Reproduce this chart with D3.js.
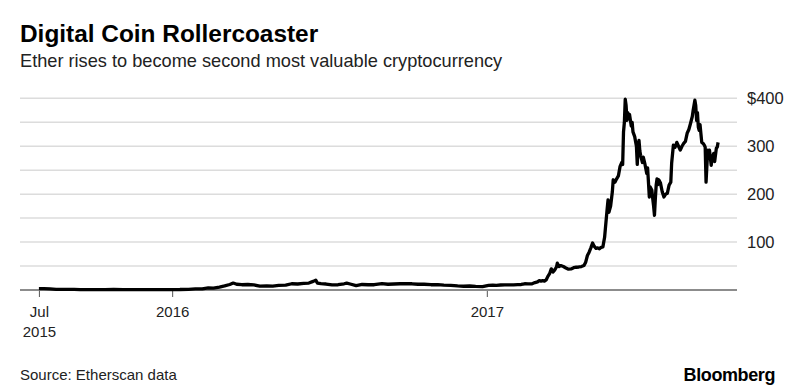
<!DOCTYPE html>
<html>
<head>
<meta charset="utf-8">
<script src="https://cdn.jsdelivr.net/npm/d3@7"></script>
<style>
  body { margin: 0; background: #fff; }
  svg { display: block; font-family: "Liberation Sans", Arial, Helvetica, sans-serif; }
</style>
</head>
<body>
<svg id="chart" width="800" height="391"></svg>
<script>
// Ether price (USD)
const dates = [
  "2015-07-30","2015-08-05","2015-08-12","2015-08-19","2015-08-26","2015-09-02","2015-09-09","2015-09-16",
  "2015-09-23","2015-10-01","2015-10-15","2015-10-25","2015-11-05","2015-11-20","2015-12-05","2015-12-20",
  "2016-01-01","2016-01-10","2016-01-20","2016-01-28","2016-02-05","2016-02-12","2016-02-18","2016-02-25",
  "2016-03-02","2016-03-08","2016-03-12","2016-03-16","2016-03-22","2016-03-29","2016-04-05","2016-04-12",
  "2016-04-20","2016-04-27","2016-05-04","2016-05-12","2016-05-19","2016-05-26","2016-06-02","2016-06-08",
  "2016-06-13","2016-06-16","2016-06-18","2016-06-22","2016-06-28","2016-07-05","2016-07-12","2016-07-19",
  "2016-07-22","2016-07-26","2016-08-02","2016-08-09","2016-08-16","2016-08-23","2016-09-01","2016-09-08",
  "2016-09-15","2016-09-22","2016-09-29","2016-10-06","2016-10-13","2016-10-20","2016-10-28","2016-11-05",
  "2016-11-12","2016-11-20","2016-11-28","2016-12-05","2016-12-12","2016-12-19","2016-12-27",
  "2017-01-03","2017-01-08","2017-01-12","2017-01-17","2017-01-22","2017-01-27","2017-02-01","2017-02-06",
  "2017-02-10","2017-02-14","2017-02-18","2017-02-22","2017-02-26","2017-03-01","2017-03-03","2017-03-05",
  "2017-03-07","2017-03-09","2017-03-11","2017-03-13","2017-03-15","2017-03-17","2017-03-19","2017-03-21",
  "2017-03-23","2017-03-24","2017-03-26","2017-03-28","2017-03-31","2017-04-03","2017-04-06","2017-04-09",
  "2017-04-12","2017-04-15","2017-04-18","2017-04-21","2017-04-24","2017-04-26","2017-04-28","2017-04-30",
  "2017-05-02","2017-05-04","2017-05-06","2017-05-08","2017-05-10","2017-05-12","2017-05-14","2017-05-16",
  "2017-05-18","2017-05-19","2017-05-21","2017-05-22","2017-05-23","2017-05-25","2017-05-27","2017-05-28",
  "2017-05-30","2017-06-01","2017-06-03","2017-06-05","2017-06-07","2017-06-08","2017-06-09","2017-06-10",
  "2017-06-11","2017-06-12","2017-06-13","2017-06-14","2017-06-15","2017-06-16","2017-06-18","2017-06-19",
  "2017-06-20","2017-06-22","2017-06-24","2017-06-25","2017-06-26","2017-06-27","2017-06-28","2017-06-29",
  "2017-07-01","2017-07-02","2017-07-04","2017-07-06","2017-07-07","2017-07-08","2017-07-09","2017-07-10",
  "2017-07-12","2017-07-13","2017-07-14","2017-07-15","2017-07-16","2017-07-17","2017-07-18","2017-07-19",
  "2017-07-20","2017-07-22","2017-07-24","2017-07-26","2017-07-28","2017-07-30","2017-08-01","2017-08-03",
  "2017-08-04","2017-08-06","2017-08-08","2017-08-10","2017-08-12","2017-08-14","2017-08-16","2017-08-18",
  "2017-08-20","2017-08-22","2017-08-24","2017-08-26","2017-08-28","2017-08-29","2017-08-31","2017-09-01",
  "2017-09-02","2017-09-03","2017-09-04","2017-09-05","2017-09-06","2017-09-08","2017-09-10","2017-09-11",
  "2017-09-12","2017-09-13","2017-09-14","2017-09-15","2017-09-16","2017-09-17","2017-09-19","2017-09-20",
  "2017-09-22","2017-09-23","2017-09-25","2017-09-26","2017-09-27"
];
const prices = [
  2.8, 3.0, 2.2, 1.4, 1.2, 1.3, 1.2, 0.9,
  0.8, 0.7, 0.6, 1.0, 0.9, 0.9, 0.85, 0.8,
  0.95, 1.0, 1.5, 2.3, 2.5, 4.5, 4.0, 6.0,
  8.5, 11.5, 14.5, 12.0, 11.0, 11.5, 10.5, 8.0,
  8.5, 8.0, 9.5, 10.0, 13.0, 12.5, 14.0, 14.5,
  18.0, 20.5, 14.5, 13.2, 12.5, 10.5, 11.0, 13.0,
  14.5, 12.5, 9.0, 11.5, 11.0, 11.0, 13.5, 12.0,
  12.5, 13.0, 13.0, 13.0, 12.0, 12.0, 11.0, 11.0,
  10.0, 9.8, 8.5, 7.8, 8.3, 7.6, 7.2,
  9.5, 10.2, 9.8, 10.4, 10.6, 10.5, 10.7, 11.3,
  11.5, 13.0, 12.8, 12.6, 15.5, 17.0, 19.5, 18.5,
  19.5, 18.5, 21.0, 28.5, 34.0, 44.0, 37.5, 42.0,
  48.0, 56.0, 49.0, 51.0, 49.0, 46.0, 43.5, 44.0,
  46.5, 47.5, 48.0, 49.0, 51.0, 58.0, 72.0, 79.0,
  88.0, 98.0, 91.0, 87.0, 88.0, 86.0, 89.0, 90.0,
  110.0, 130.0, 170.0, 188.0, 162.0, 175.0, 205.0, 230.0,
  225.0, 232.0, 238.0, 258.0, 266.0, 262.0, 330.0, 350.0,
  398.0, 385.0, 354.0, 370.0, 362.0, 366.0, 342.0, 350.0,
  330.0, 320.0, 300.0, 262.0, 300.0, 312.0, 290.0, 280.0,
  266.0, 277.0, 262.0, 243.0, 255.0, 225.0, 194.0, 215.0,
  208.0, 190.0, 175.0, 156.0, 190.0, 219.0, 232.0, 220.0,
  230.0, 223.0, 205.0, 194.0, 200.0, 202.0, 219.0, 225.0,
  265.0, 302.0, 298.0, 308.0, 300.0, 292.0, 300.0, 306.0,
  310.0, 327.0, 335.0, 348.0, 362.0, 375.0, 396.0, 385.0,
  354.0, 370.0, 340.0, 333.0, 345.0, 308.0, 305.0, 302.0,
  298.0, 225.0, 260.0, 292.0, 285.0, 292.0, 260.0, 275.0,
  285.0, 268.0, 296.0, 298.0, 308.0
];

const gridValues = [50, 100, 150, 200, 250, 300, 350, 400];
const yTickValues = [100, 200, 300, 400];
const xTickDates = ["2015-07-30", "2016-01-01", "2017-01-01"];
const xTickLabels = [["Jul", "2015"], ["2016"], ["2017"]];

const parseDate = d3.timeParse("%Y-%m-%d");
const data = dates.map((d, i) => ({ date: parseDate(d), price: prices[i] }));

const svg = d3.select("#chart");

// Scales
const x = d3.scaleTime()
  .domain([parseDate("2015-07-08"), parseDate("2017-10-19")])
  .range([20, 737]);
const y = d3.scaleLinear()
  .domain([0, 400])
  .range([290, 98.3]);

// Title + subtitle
svg.append("text")
  .attr("x", 20).attr("y", 42)
  .attr("font-size", 24.4).attr("font-weight", "bold").attr("fill", "#000")
  .text("Digital Coin Rollercoaster");
svg.append("text")
  .attr("x", 20).attr("y", 67)
  .attr("font-size", 18.2).attr("fill", "#222")
  .text("Ether rises to become second most valuable cryptocurrency");

// Gridlines
svg.append("g").selectAll("line").data(gridValues).join("line")
  .attr("x1", 20).attr("x2", 737)
  .attr("y1", d => y(d)).attr("y2", d => y(d))
  .attr("stroke", "#dcdcdc").attr("stroke-width", 1.5);

// Y axis labels on the right
const yAxis = svg.append("g")
  .attr("transform", "translate(747,0)")
  .call(d3.axisRight(y).tickValues(yTickValues).tickSize(0).tickPadding(0)
    .tickFormat(d => d === 400 ? "$400" : d));
yAxis.select(".domain").remove();
yAxis.selectAll("text")
  .attr("font-family", null).attr("font-size", 16.5).attr("fill", "#222");

// X axis
const xAxis = svg.append("g")
  .attr("transform", "translate(0,289)")
  .call(d3.axisBottom(x).tickValues(xTickDates.map(parseDate)).tickSize(8).tickFormat(""));
xAxis.select(".domain").remove();
xAxis.selectAll(".tick line").attr("stroke", "#555").attr("stroke-width", 1);
xAxis.selectAll(".tick").each(function(d, i) {
  const t = d3.select(this).append("text")
    .attr("y", 28).attr("fill", "#222").attr("font-size", 15)
    .attr("text-anchor", "middle");
  xTickLabels[i].forEach((s, j) => {
    t.append("tspan").attr("x", 0).attr("dy", j === 0 ? 0 : 20).text(s);
  });
});

// Baseline
svg.append("line")
  .attr("x1", 20).attr("x2", 737)
  .attr("y1", y(0)).attr("y2", y(0))
  .attr("stroke", "#8c8c8c").attr("stroke-width", 2);

// Price line
const line = d3.line()
  .x(d => x(d.date))
  .y(d => y(d.price));
svg.append("path")
  .datum(data)
  .attr("fill", "none")
  .attr("stroke", "#000")
  .attr("stroke-width", 3.3)
  .attr("stroke-linejoin", "round")
  .attr("d", line);

// Footer
svg.append("text")
  .attr("x", 20).attr("y", 380)
  .attr("font-size", 15).attr("fill", "#222")
  .text("Source: Etherscan data");
svg.append("text")
  .attr("x", 775).attr("y", 381)
  .attr("text-anchor", "end")
  .attr("font-size", 18).attr("font-weight", "bold").attr("fill", "#000")
  .attr("letter-spacing", -0.4)
  .text("Bloomberg");
</script>
</body>
</html>
